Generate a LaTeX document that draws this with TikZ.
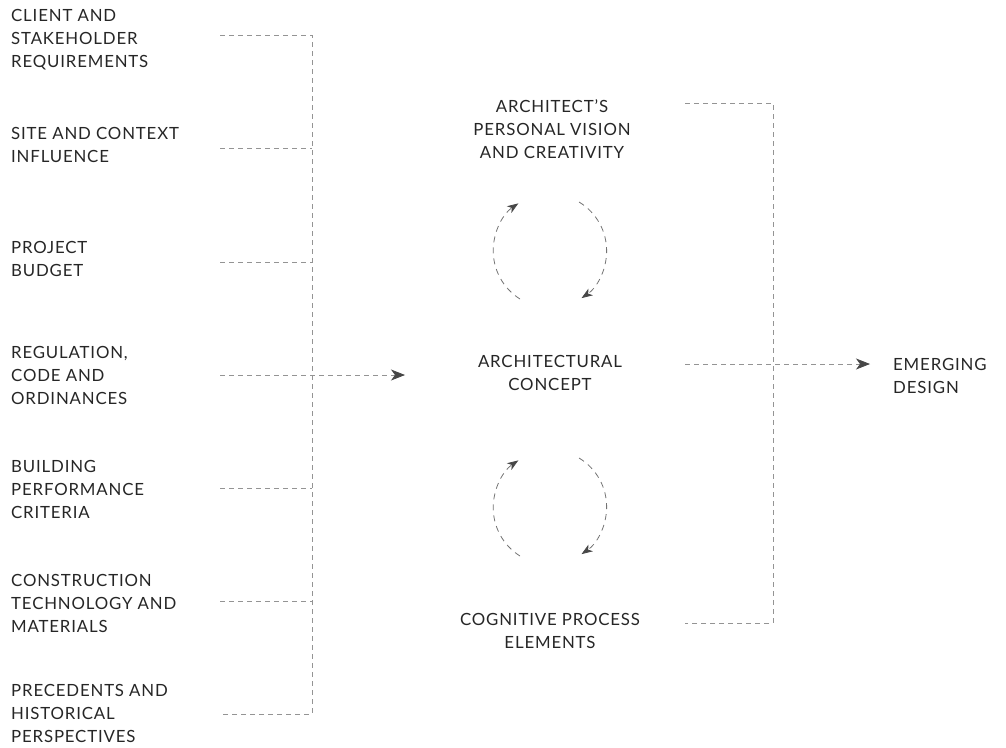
\documentclass[tikz,border=0pt]{standalone}
\usepackage{fontspec}
\setmainfont{Lato}[LetterSpace=5]
\usetikzlibrary{arrows.meta}
\begin{document}
\begin{tikzpicture}[x=1pt,y=-1pt,
  lbl/.style={font=\fontsize{16.8}{23}\selectfont, text=black!85, inner sep=0pt, align=left, anchor=west},
  clbl/.style={font=\fontsize{16.8}{23}\selectfont, text=black!85, inner sep=0pt, align=center},
  dline/.style={draw=black!42, dash pattern=on 5pt off 4pt, line width=0.8pt},
  tipped/.style={-{Stealth[length=14pt,width=11pt,inset=4pt,color=black!72]}},
  loopline/.style={draw=black!55, dash pattern=on 6pt off 5pt, line width=0.8pt,
    -{Stealth[length=11pt,width=8pt,inset=3pt,color=black!72]}}
]
\useasboundingbox (0,0) rectangle (1006,747);

% input factors on the left
\node[lbl] (client) at (11,40) {CLIENT AND\\STAKEHOLDER\\REQUIREMENTS};
\node[lbl] (site) at (11,144.5) {SITE AND CONTEXT\\INFLUENCE};
\node[lbl] (budget) at (11,258.5) {PROJECT\\BUDGET};
\node[lbl] (code) at (11,375) {REGULATION,\\CODE AND\\ORDINANCES};
\node[lbl] (perf) at (11,489) {BUILDING\\PERFORMANCE\\CRITERIA};
\node[lbl] (tech) at (11,603) {CONSTRUCTION\\TECHNOLOGY AND\\MATERIALS};
\node[lbl] (prec) at (11,713) {PRECEDENTS AND\\HISTORICAL\\PERSPECTIVES};

% central column
\node[clbl] (vision) at (552,129) {ARCHITECT'S\\PERSONAL VISION\\AND CREATIVITY};
\node[clbl] (concept) at (550,372.5) {ARCHITECTURAL\\CONCEPT};
\node[clbl] (cognitive) at (550,630.5) {COGNITIVE PROCESS\\ELEMENTS};

% result
\node[lbl] (emerging) at (893,375.5) {EMERGING\\DESIGN};

% left bracket
\coordinate (l1) at (220,35);
\coordinate (l2) at (220,148);
\coordinate (l3) at (220,262);
\coordinate (l4) at (220,375);
\coordinate (l5) at (220,488);
\coordinate (l6) at (220,601);
\coordinate (l7) at (220,714);
\coordinate (ltop) at (312,35);
\coordinate (lbot) at (312,714);
\coordinate (lin) at (405,375);
\draw[dline] (l1) -- (ltop) -- (lbot) -- (l7);
\foreach \k in {2,3,5,6} \draw[dline] (l\k) -- (312,0 |- l\k);
\draw[dline,tipped] (l4) -- (lin);

% right bracket
\coordinate (r1) at (685,103);
\coordinate (rtop) at (773,103);
\coordinate (rbot) at (773,623);
\coordinate (r3) at (685,623);
\coordinate (r2) at (685,364);
\coordinate (rout) at (870,364);
\draw[dline] (r1) -- (rtop) -- (rbot) -- (r3);
\draw[dline,tipped] (r2) -- (rout);

% feedback loops
\coordinate (ua) at (520,299);
\coordinate (ub) at (579,202);
\coordinate (da) at (520,556);
\coordinate (db) at (579,458);
\draw[loopline] (ua) arc[start angle=122, end angle=236, x radius=57, y radius=57];
\draw[loopline] (ub) arc[start angle=-59, end angle=56, x radius=57, y radius=57];
\draw[loopline] (da) arc[start angle=122, end angle=236, x radius=57, y radius=57];
\draw[loopline] (db) arc[start angle=-59, end angle=56, x radius=57, y radius=57];
\end{tikzpicture}
\end{document}
